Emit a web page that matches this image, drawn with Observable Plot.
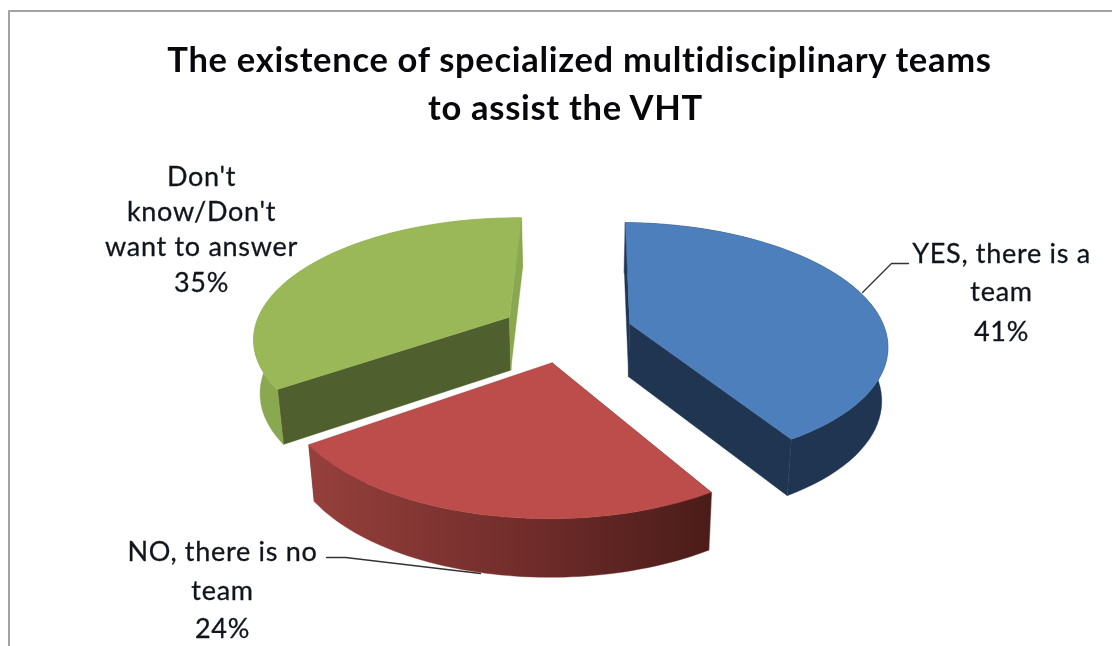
<!DOCTYPE html>
<html><head><meta charset="utf-8">
<script src="https://cdn.jsdelivr.net/npm/d3@7"></script>
<script src="https://cdn.jsdelivr.net/npm/@observablehq/plot@0.6"></script>
<style>html,body{margin:0;padding:0;background:#fff}svg{display:block;filter:blur(.5px)}</style>
</head><body><div id="chart"></div>
<script>
const categories = ["YES, there is a team", "NO, there is no team", "Don't know/Don't want to answer"];
const values = [41, 24, 35];
const titleLines = ["The existence of specialized multidisciplinary teams", "to assist the VHT"];
const labelLines = [["YES, there is a", "team", "41%"], ["NO, there is no", "team", "24%"], ["Don't", "know/Don't", "want to answer", "35%"]];
const topColors = ["#4c7fbb", "#bc4d4a", "#9bb858"];
const rimColors = ["#1f3552", "url(#redRim)", "#8aa850"];
const startFaceColors = ["#1f3552", "#6b2a28", "#4f5f2d"];
const endFaceColors = ["#1f3552", "#6b2a28", "#8aa850"];

// 3D pie projection
const k = 0.16, R = 256, cx = 566, cy = 331, yh = -416, explode = 0.258, startAngle = 0.02;
const vx = 578, depth = 0.98, drop = 53, dropSlope = 0.028;
const project = (X, Z) => { const s = 1 / (1 - k * Z); return {x: cx + R * X * s, y: yh + (cy - yh) * s}; };
const lower = p => ({x: vx + (p.x - vx) * depth, y: p.y + drop + dropSlope * (p.y - 318)});

const arcs = d3.pie().sort(null).startAngle(startAngle).endAngle(startAngle + 2 * Math.PI)(values);
const cutFaces = [], rimFaces = [], topFaces = [];
arcs.forEach((a, i) => {
  const mid = (a.startAngle + a.endAngle) / 2;
  const ox = explode * Math.sin(mid), oz = -explode * Math.cos(mid);
  const apex = project(ox, oz);
  const rim = d3.range(0, 61).map(j => {
    const t = a.startAngle + (a.endAngle - a.startAngle) * j / 60;
    return project(ox + Math.sin(t), oz - Math.cos(t));
  });
  const first = rim[0], last = rim[60];
  cutFaces.push({pts: [apex, first, lower(first), lower(apex)], color: startFaceColors[i]});
  cutFaces.push({pts: [apex, last, lower(last), lower(apex)], color: endFaceColors[i]});
  rimFaces.push({pts: [...rim, ...rim.map(lower).reverse()], color: rimColors[i]});
  topFaces.push({pts: [apex, ...rim], color: topColors[i]});
});
const ordered = [...cutFaces, ...rimFaces, ...topFaces];

const ink = "#10141c";
const labelRows = [
  ...labelLines[0].map((t, i) => ({t, x: 1001, y: [254, 292, 332][i]})),
  ...labelLines[1].map((t, i) => ({t, x: 222, y: [552, 591, 629][i]})),
  ...labelLines[2].map((t, i) => ({t, x: 201, y: [177, 212, 247, 283][i]}))
];
const titleRows = titleLines.map((t, i) => ({t, x: [579, 565][i], y: [60, 108][i]}));

const defs = () => {
  const d = d3.create("svg:defs");
  const g = d.append("linearGradient").attr("id", "redRim");
  g.append("stop").attr("offset", "0%").attr("stop-color", "#96403c");
  g.append("stop").attr("offset", "55%").attr("stop-color", "#702c2a");
  g.append("stop").attr("offset", "100%").attr("stop-color", "#4a1c19");
  return d.node();
};

const plot = Plot.plot({
  width: 1112, height: 646, margin: 0,
  x: {domain: [0, 1112], range: [0, 1112], axis: null},
  y: {domain: [0, 646], range: [0, 646], axis: null},
  marks: [
    defs,
    Plot.line([{x: 1112, y: 10.5}, {x: 8.5, y: 10.5}, {x: 8.5, y: 646}], {x: "x", y: "y", stroke: "#a3a3a3", strokeWidth: 2}),
    Plot.line([{x: 862, y: 292}, {x: 891, y: 263}, {x: 908, y: 263}], {x: "x", y: "y", stroke: "#333", strokeWidth: 1.3}),
    Plot.line([{x: 326, y: 557}, {x: 345, y: 557}, {x: 480, y: 573}], {x: "x", y: "y", stroke: "#333", strokeWidth: 1.3}),
    ...ordered.map(f => Plot.line(f.pts, {x: "x", y: "y", fill: f.color, stroke: f.color, strokeWidth: 0.4, curve: "linear-closed"})),
    Plot.text(titleRows, {x: "x", y: "y", text: "t", fontFamily: "Lato", fontWeight: 700, fontSize: 34.5, fill: "#08080c", textAnchor: "middle", lineAnchor: "middle"}),
    Plot.text(labelRows, {x: "x", y: "y", text: "t", fontFamily: "Lato", fontWeight: 400, fontSize: 27, fill: ink, stroke: ink, strokeWidth: 0.3, textAnchor: "middle", lineAnchor: "middle"})
  ]
});
const textGroups = plot.querySelectorAll('g[aria-label="text"]');
textGroups[0].style.letterSpacing = "0.7px";
textGroups[1].style.letterSpacing = "0.7px";
document.getElementById("chart").append(plot);
</script></body></html>
